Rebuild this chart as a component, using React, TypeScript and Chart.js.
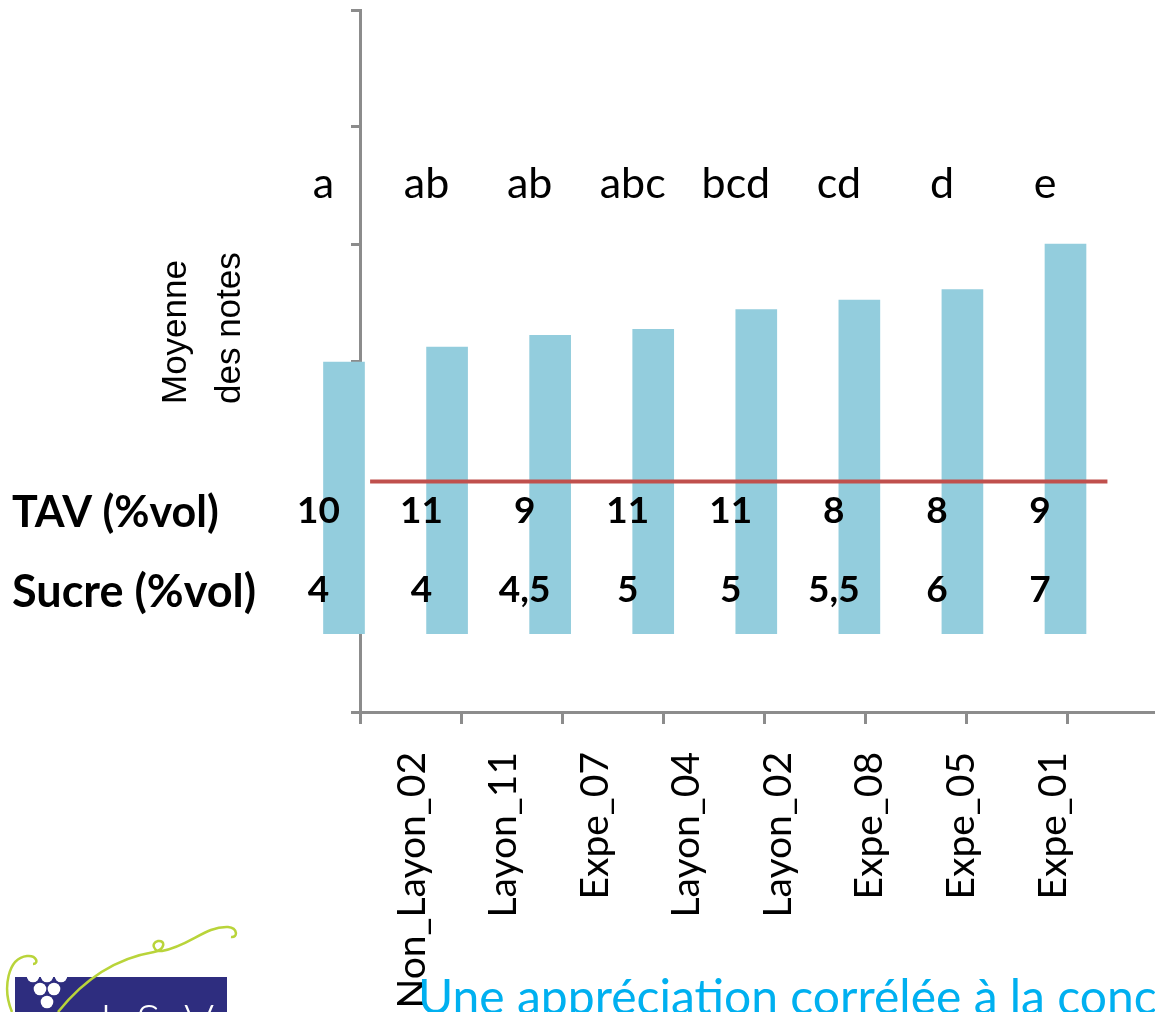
import { useEffect, useRef } from 'react';
import { Chart, registerables } from 'chart.js';

Chart.register(...registerables);

// ---------- data ----------
const CATEGORIES = ['Non_Layon_02', 'Layon_11', 'Expe_07', 'Layon_04', 'Layon_02', 'Expe_08', 'Expe_05', 'Expe_01'];
const MEAN_SCORES = [2.99, 3.12, 3.22, 3.27, 3.44, 3.52, 3.61, 4.0];
const BAR_BASE = 0.67;
const GROUP_LETTERS = ['a', 'ab', 'ab', 'abc', 'bcd', 'cd', 'd', 'e'];
const TAV_VALUES = ['10', '11', '9', '11', '11', '8', '8', '9'];
const SUCRE_VALUES = ['4', '4', '4,5', '5', '5', '5,5', '6', '7'];
const REF_LEVEL = 1.97;
const REF_SPAN = [0.1, 7.4];
const Y_MIN = 0;
const Y_MAX = 6;

// ---------- layout / style constants ----------
const W = 1155;
const H = 1012;
const AXIS_GREY = '#8c8c8c';
const BAR_COLOR = '#93CDDD';
const RED = '#C0504D';
const LETTER_LEVEL = 4.39;
const TAV_LEVEL = 1.615;
const SUCRE_LEVEL = 0.94;
const NUMBER_DX = -5;

const noPadding = (s: any) => {
  s.paddingLeft = 0;
  s.paddingRight = 0;
  s.paddingTop = 0;
  s.paddingBottom = 0;
};

const overlay = {
  id: 'overlay',
  afterDatasetsDraw(chart: any) {
    const { ctx } = chart;
    const xb = chart.scales.xb;
    const y = chart.scales.y;
    ctx.save();
    ctx.fillStyle = '#000';
    ctx.textBaseline = 'alphabetic';
    ctx.textAlign = 'center';

    ctx.font = '43px Lato';
    GROUP_LETTERS.forEach((t, i) => {
      ctx.fillText(t, xb.getPixelForValue(i), y.getPixelForValue(LETTER_LEVEL));
    });

    ctx.font = 'bold 37px Lato';
    TAV_VALUES.forEach((t, i) => {
      ctx.fillText(t, xb.getPixelForValue(i) + NUMBER_DX, y.getPixelForValue(TAV_LEVEL));
    });
    SUCRE_VALUES.forEach((t, i) => {
      ctx.fillText(t, xb.getPixelForValue(i) + NUMBER_DX, y.getPixelForValue(SUCRE_LEVEL));
    });

    ctx.textAlign = 'left';
    ctx.font = 'bold 43px Lato';
    ctx.fillText('TAV (%vol)', 12, y.getPixelForValue(TAV_LEVEL) + 4);
    ctx.font = 'bold 45px Lato';
    ctx.fillText('Sucre (%vol)', 12, y.getPixelForValue(SUCRE_LEVEL) + 5);

    // y title (two rotated lines)
    ctx.font = '35px "Liberation Sans"';
    const titleLines = ['Moyenne', 'des notes'];
    const baselines = [186, 240];
    titleLines.forEach((t, i) => {
      ctx.save();
      ctx.translate(baselines[i], 404);
      ctx.rotate(-Math.PI / 2);
      ctx.fillText(t, 0, 0);
      ctx.restore();
    });

    // footer: cyan caption
    ctx.fillStyle = '#00B0F0';
    ctx.font = '48px Lato';
    ctx.fillText('Une appréciation corrélée à la concentration', 418, 1014);

    // footer: logo
    ctx.fillStyle = '#2E2D7F';
    ctx.fillRect(15, 977, 212, 40);
    ctx.fillStyle = '#ffffff';
    [[33, 976], [47, 976], [61, 976], [40, 989], [54, 989], [47, 1002]].forEach(([cx, cy]) => {
      ctx.beginPath();
      ctx.arc(cx, cy, 6.3, 0, Math.PI * 2);
      ctx.fill();
    });
    ctx.font = '300 46px Lato';
    ctx.fillText('I', 100, 1037);
    ctx.fillText('S', 136, 1037);
    ctx.fillText('V', 184, 1037);

    ctx.strokeStyle = '#B9D43A';
    ctx.lineWidth = 2.5;
    ctx.beginPath();
    ctx.moveTo(12, 1012);
    ctx.bezierCurveTo(2, 988, 8, 958, 27, 956);
    ctx.bezierCurveTo(37, 955, 39, 964, 33, 964);
    ctx.stroke();
    ctx.beginPath();
    ctx.moveTo(58, 1012);
    ctx.bezierCurveTo(85, 978, 118, 958, 154, 952);
    ctx.bezierCurveTo(165, 950, 166, 940, 158, 941);
    ctx.bezierCurveTo(150, 943, 154, 952, 162, 951);
    ctx.bezierCurveTo(190, 946, 205, 926, 228, 927);
    ctx.bezierCurveTo(238, 928, 238, 938, 231, 937);
    ctx.stroke();

    ctx.restore();
  },
};

export default function App() {
  const ref = useRef<HTMLCanvasElement>(null);

  useEffect(() => {
    if (!ref.current) return;
    const chart = new Chart(ref.current, {
      type: 'bar',
      data: {
        datasets: [
          {
            type: 'line',
            label: 'Référence',
            data: REF_SPAN.map((x) => ({ x, y: REF_LEVEL })),
            xAxisID: 'xt',
            yAxisID: 'y',
            borderColor: RED,
            borderWidth: 4,
            pointRadius: 0,
            order: 0,
            clip: false,
          } as any,
          {
            type: 'bar',
            label: 'Moyenne des notes',
            data: MEAN_SCORES.map((v, i) => ({ x: i, y: [BAR_BASE, v] })),
            xAxisID: 'xb',
            yAxisID: 'y',
            backgroundColor: BAR_COLOR,
            borderWidth: 0,
            barThickness: 41,
            order: 1,
            clip: false,
          } as any,
        ],
      },
      options: {
        animation: false,
        responsive: false,
        maintainAspectRatio: false,
        devicePixelRatio: 1,
        layout: { autoPadding: false, padding: { left: 360, right: 0, top: 10, bottom: H - 712 } },
        plugins: {
          legend: { display: false },
          tooltip: { enabled: false },
          title: { display: false },
        },
        scales: {
          y: {
            type: 'linear',
            axis: 'y',
            position: { xt: 0 } as any,
            min: Y_MIN,
            max: Y_MAX,
            offset: false,
            afterFit: noPadding,
            ticks: { display: false, stepSize: 1 },
            grid: {
              display: true,
              offset: false,
              drawOnChartArea: false,
              drawTicks: true,
              tickLength: 8,
              color: AXIS_GREY,
              lineWidth: 3,
            },
            border: { display: true, color: AXIS_GREY, width: 3 },
          },
          xt: {
            type: 'linear',
            axis: 'x',
            position: { y: 0 } as any,
            min: 0,
            max: 7.871,
            offset: false,
            afterFit: noPadding,
            ticks: { display: false, stepSize: 1, includeBounds: false },
            grid: {
              display: true,
              offset: false,
              drawOnChartArea: false,
              drawTicks: true,
              tickLength: 10,
              color: AXIS_GREY,
              lineWidth: 3,
            },
            border: { display: true, color: AXIS_GREY, width: 3 },
          },
          xb: {
            type: 'linear',
            axis: 'x',
            display: false,
            offset: false,
            grid: { offset: false },
            min: 0.3541,
            max: 8.0673,
            afterFit: noPadding,
          },
          xl: {
            type: 'linear',
            axis: 'x',
            position: { y: 0 } as any,
            min: -0.5679,
            max: 8.114,
            offset: false,
            afterFit: noPadding,
            grid: { display: false, drawTicks: false, offset: false },
            border: { display: false },
            ticks: {
              display: true,
              stepSize: 1,
              includeBounds: false,
              autoSkip: false,
              minRotation: 90,
              maxRotation: 90,
              padding: 40,
              color: '#000',
              font: { family: 'Lato', size: 39 },
              callback: (v: any) => CATEGORIES[Number(v)] ?? '',
            },
          },
        },
      },
      plugins: [overlay],
    });
    return () => chart.destroy();
  }, []);

  return (
    <div
      style={{
        position: 'absolute',
        left: 0,
        top: 0,
        width: W,
        height: H,
        overflow: 'hidden',
        background: '#fff',
      }}
    >
      <canvas ref={ref} width={W} height={H} style={{ display: 'block', width: W, height: H }} />
    </div>
  );
}
